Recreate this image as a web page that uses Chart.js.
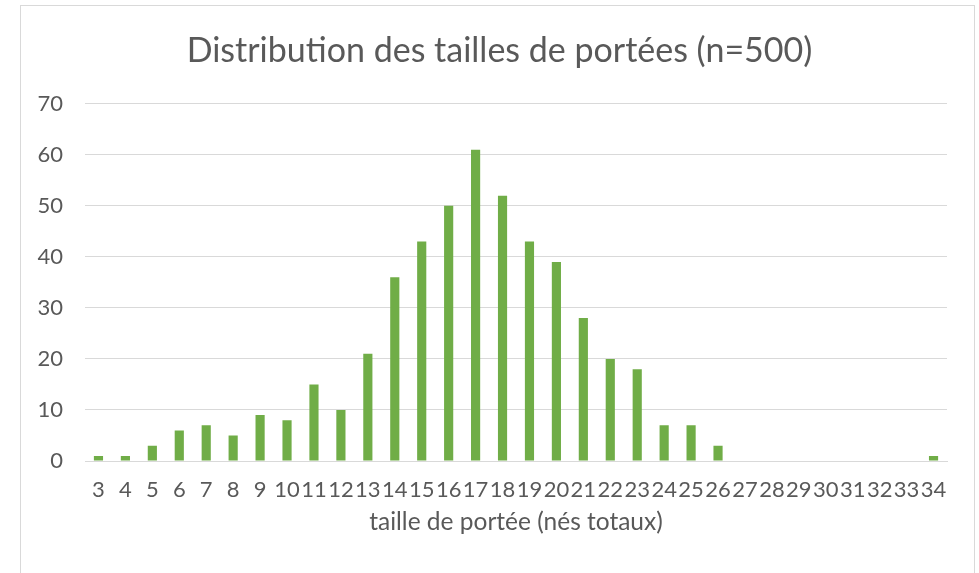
<!DOCTYPE html>
<html>
<head>
<meta charset="utf-8">
<script src="https://cdn.jsdelivr.net/npm/chart.js@4"></script>
<style>
  html, body { margin: 0; padding: 0; background: #fff; }
  #wrap { position: relative; width: 979px; height: 573px; overflow: hidden; }
  #frame { position: absolute; left: 20px; top: 5px; width: 955px; height: 600px; border: 1px solid #d9d9d9; box-sizing: border-box; }
  canvas { position: absolute; left: 0; top: 0; }
</style>
</head>
<body>
<div id="wrap">
  <div id="frame"></div>
  <canvas id="chart" width="979" height="573"></canvas>
</div>
<script>
// tailles de portée (nés totaux)
const sizes = [3, 4, 5, 6, 7, 8, 9, 10, 11, 12, 13, 14, 15, 16, 17, 18, 19, 20, 21, 22, 23, 24, 25, 26, 27, 28, 29, 30, 31, 32, 33, 34]
// nombre de portées
const counts = [1, 1, 3, 6, 7, 5, 9, 8, 15, 10, 21, 36, 43, 50, 61, 52, 43, 39, 28, 20, 18, 7, 7, 3, 0, 0, 0, 0, 0, 0, 0, 1]
const yTicks = [0, 10, 20, 30, 40, 50, 60, 70]

const TEXT = '#595959'
const GRID = '#d9d9d9'
const FONT = 'Lato, "Open Sans", sans-serif'

const config = {
  type: 'bar',
  data: {
    labels: sizes.map(String),
    datasets: [
      {
        label: 'portées',
        data: counts,
        backgroundColor: '#70ad47',
        borderWidth: 0,
        categoryPercentage: 1,
        barPercentage: 0.34,
      },
    ],
  },
  options: {
    responsive: false,
    animation: false,
    layout: {
      // title centred on the frame (x 20..979)
      padding: { left: 20, right: 0, top: 0, bottom: 0 },
    },
    plugins: {
      legend: { display: false },
      tooltip: { enabled: false },
      title: {
        display: true,
        text: 'Distribution des tailles de portées (n=500)',
        color: TEXT,
        font: { family: FONT, size: 34, weight: 'normal' },
        padding: { top: 31, bottom: 32 },
      },
    },
    scales: {
      x: {
        grid: { display: false, drawTicks: false },
        border: { display: true, color: GRID, width: 1 },
        ticks: {
          color: TEXT,
          font: { family: FONT, size: 22 },
          padding: 16,
          autoSkip: false,
          maxRotation: 0,
        },
        title: {
          display: true,
          text: 'taille de portée (nés totaux)',
          color: TEXT,
          font: { family: FONT, size: 24.5 },
          padding: { top: 0, bottom: 36 },
        },
        afterFit: (scale) => { scale.height = 112 },
      },
      y: {
        min: 0,
        max: 70,
        afterBuildTicks: (scale) => { scale.ticks = yTicks.map((v) => ({ value: v })) },
        grid: { color: GRID, lineWidth: 1, drawTicks: false },
        border: { display: false },
        ticks: {
          color: TEXT,
          font: { family: FONT, size: 22 },
          padding: 22,
        },
        afterFit: (scale) => { scale.width = 65 },
      },
      // empty right margin
      spacer: {
        type: 'linear',
        position: 'right',
        grid: { display: false, drawTicks: false },
        border: { display: false },
        ticks: { display: false },
        afterFit: (scale) => { scale.width = 32 },
      },
    },
  },
}

new Chart(document.getElementById('chart'), config)
</script>
</body>
</html>
